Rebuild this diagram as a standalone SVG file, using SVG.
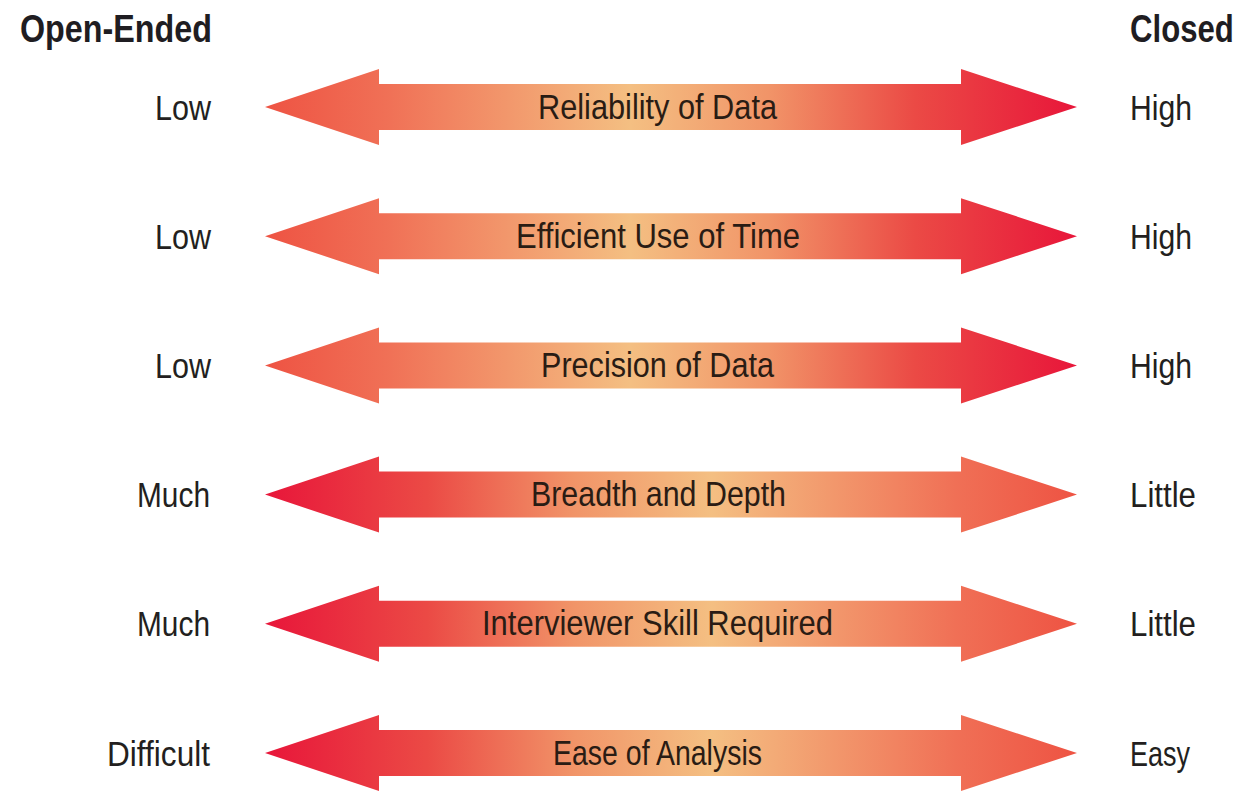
<svg xmlns="http://www.w3.org/2000/svg" xmlns:xlink="http://www.w3.org/1999/xlink" width="1245" height="791" viewBox="0 0 1245 791">
  <style>
    .hdr { font-family: "Liberation Sans", Arial, sans-serif; font-weight: bold; font-size: 38px; fill: #1f1d22; }
    .lbl { font-family: "Liberation Sans", Arial, sans-serif; font-size: 35px; fill: #231f20; }
    .ctr { font-family: "Liberation Sans", Arial, sans-serif; font-size: 35px; fill: #2a1c14; }
  </style>
  <defs>
    <linearGradient id="gA" gradientUnits="userSpaceOnUse" x1="265" y1="0" x2="1077" y2="0">
      <stop offset="0" stop-color="#ee5343"/>
      <stop offset="0.15" stop-color="#f07056"/>
      <stop offset="0.45" stop-color="#f4bf82"/>
      <stop offset="0.62" stop-color="#f19468"/>
      <stop offset="0.8" stop-color="#eb4a45"/>
      <stop offset="1" stop-color="#e8163a"/>
    </linearGradient>
    <linearGradient id="gB" gradientUnits="userSpaceOnUse" x1="265" y1="0" x2="1077" y2="0">
      <stop offset="0" stop-color="#e8163a"/>
      <stop offset="0.2" stop-color="#eb4a45"/>
      <stop offset="0.38" stop-color="#f19468"/>
      <stop offset="0.55" stop-color="#f4bf82"/>
      <stop offset="0.85" stop-color="#f07056"/>
      <stop offset="1" stop-color="#ee5343"/>
    </linearGradient>
    <path id="arrow" d="M265,0 L379,-38 L379,-23 L961,-23 L961,-38 L1077,0 L961,38 L961,23 L379,23 L379,38 Z"/>
  </defs>
  <rect width="1245" height="791" fill="#ffffff"/>

  <g id="headers">
    <text class="hdr" transform="translate(20,42) scale(0.85,1)" x="0" y="0">Open-Ended</text>
    <text class="hdr" transform="translate(1130,42) scale(0.82,1)" x="0" y="0">Closed</text>
  </g>

  <g id="connectors">
    <use xlink:href="#arrow" href="#arrow" transform="translate(0,107)" fill="url(#gA)"/>
    <use xlink:href="#arrow" href="#arrow" transform="translate(0,236.2)" fill="url(#gA)"/>
    <use xlink:href="#arrow" href="#arrow" transform="translate(0,365.4)" fill="url(#gA)"/>
    <use xlink:href="#arrow" href="#arrow" transform="translate(0,494.6)" fill="url(#gB)"/>
    <use xlink:href="#arrow" href="#arrow" transform="translate(0,623.8)" fill="url(#gB)"/>
    <use xlink:href="#arrow" href="#arrow" transform="translate(0,753)" fill="url(#gB)"/>
  </g>

  <g id="row1">
    <text class="lbl" x="155" y="120" textLength="56" lengthAdjust="spacingAndGlyphs">Low</text>
    <text class="ctr" x="538" y="119" textLength="239" lengthAdjust="spacingAndGlyphs">Reliability of Data</text>
    <text class="lbl" x="1130" y="120" textLength="62" lengthAdjust="spacingAndGlyphs">High</text>
  </g>
  <g id="row2">
    <text class="lbl" x="155" y="249" textLength="56" lengthAdjust="spacingAndGlyphs">Low</text>
    <text class="ctr" x="516" y="248" textLength="284" lengthAdjust="spacingAndGlyphs">Efficient Use of Time</text>
    <text class="lbl" x="1130" y="249" textLength="62" lengthAdjust="spacingAndGlyphs">High</text>
  </g>
  <g id="row3">
    <text class="lbl" x="155" y="378" textLength="56" lengthAdjust="spacingAndGlyphs">Low</text>
    <text class="ctr" x="541" y="377" textLength="233" lengthAdjust="spacingAndGlyphs">Precision of Data</text>
    <text class="lbl" x="1130" y="378" textLength="62" lengthAdjust="spacingAndGlyphs">High</text>
  </g>
  <g id="row4">
    <text class="lbl" x="137" y="507" textLength="73" lengthAdjust="spacingAndGlyphs">Much</text>
    <text class="ctr" x="531" y="506" textLength="255" lengthAdjust="spacingAndGlyphs">Breadth and Depth</text>
    <text class="lbl" x="1130" y="507" textLength="66" lengthAdjust="spacingAndGlyphs">Little</text>
  </g>
  <g id="row5">
    <text class="lbl" x="137" y="636" textLength="73" lengthAdjust="spacingAndGlyphs">Much</text>
    <text class="ctr" x="482" y="635" textLength="351" lengthAdjust="spacingAndGlyphs">Interviewer Skill Required</text>
    <text class="lbl" x="1130" y="636" textLength="66" lengthAdjust="spacingAndGlyphs">Little</text>
  </g>
  <g id="row6">
    <text class="lbl" x="107" y="766" textLength="103" lengthAdjust="spacingAndGlyphs">Difficult</text>
    <text class="ctr" x="553" y="765" textLength="209" lengthAdjust="spacingAndGlyphs">Ease of Analysis</text>
    <text class="lbl" x="1130" y="766" textLength="60" lengthAdjust="spacingAndGlyphs">Easy</text>
  </g>
</svg>
